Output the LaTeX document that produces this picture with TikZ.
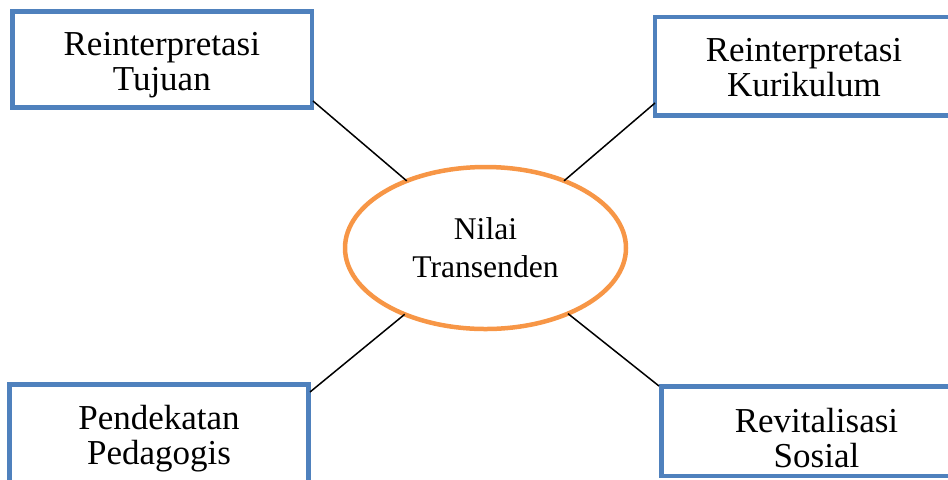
\documentclass[tikz,border=0pt]{standalone}
\usepackage{fontspec}
\setmainfont{Liberation Serif}
\usetikzlibrary{shapes.geometric}
\definecolor{boxblue}{RGB}{79,129,189}
\definecolor{ellorange}{RGB}{247,150,70}
\begin{document}
\begin{tikzpicture}[x=0.5pt,y=-0.5pt,
  topic/.style={draw=boxblue, line width=2.25pt, rectangle, inner sep=0pt},
  topictext/.style={anchor=north, inner sep=0pt, align=center,
    font=\fontsize{17.5}{17.5}\selectfont, text=black},
  core/.style={draw=ellorange, line width=2.25pt, ellipse, inner sep=0pt, outer sep=0pt,
    minimum width=140.5pt, minimum height=81pt, align=center,
    font=\fontsize{15.8}{19}\selectfont},
  link/.style={draw=black, line width=0.75pt}]
\useasboundingbox (0,0) rectangle (948,479);
\clip (0,0) rectangle (948,479);
% boxes
\node[topic, minimum width=149.75pt, minimum height=48pt] (tl) at (162.25,59.5) {};
\node[topic, minimum width=149.5pt, minimum height=49.25pt] (tr) at (804.5,66.25) {};
\node[topic, minimum width=149.5pt, minimum height=49pt] (bl) at (159,433.5) {};
\node[topic, minimum width=151.5pt, minimum height=44.75pt] (br) at (813,431.25) {};
% box texts
\node[topictext] (tlt) at (161.8,32) {Reinterpretasi\\Tujuan};
\node[topictext] (trt) at (804,38) {Reinterpretasi\\Kurikulum};
\node[topictext] (blt) at (159,405) {Pendekatan\\Pedagogis};
\node[topictext] (brt) at (816.5,408) {Revitalisasi\\Sosial};
% centre
\node[core] (e) at (485.5,248) {Nilai\\Transenden};
% connectors
\coordinate (c1) at (313,101);
\coordinate (c2) at (655,103);
\coordinate (c3) at (310,392);
\coordinate (c4) at (659,386);
\draw[link] (c1) -- (e);
\draw[link] (c2) -- (e);
\draw[link] (c3) -- (e);
\draw[link] (c4) -- (e);
\end{tikzpicture}
\end{document}
